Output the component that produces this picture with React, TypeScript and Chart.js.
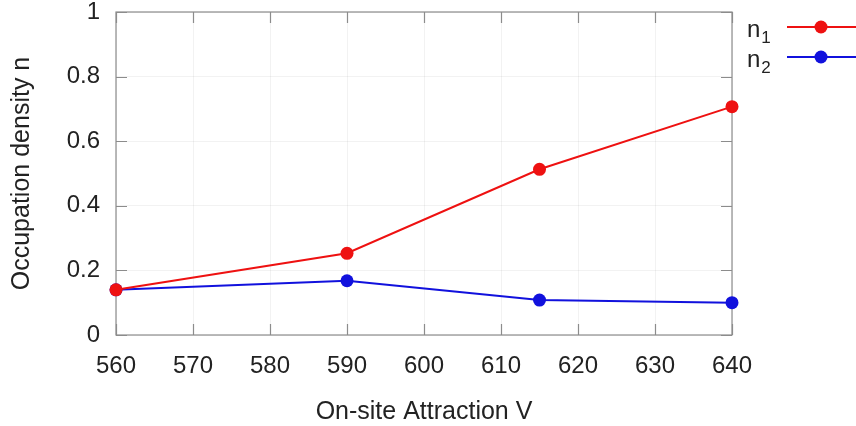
import { useEffect, useRef } from 'react';
import { Chart, registerables } from 'chart.js';

Chart.register(...registerables);

// On-site attraction V (x) and occupation densities of the two sites
const attraction = [560, 590, 615, 640];
const densityN1 = [0.14, 0.253, 0.513, 0.707];
const densityN2 = [0.14, 0.168, 0.108, 0.1];

const seriesBase = ['n', 'n'];
const seriesSub = ['1', '2'];
const seriesColors = ['#ee1111', '#1111dd'];

const xTickValues = [560, 570, 580, 590, 600, 610, 620, 630, 640];
const yTickValues = [0, 0.2, 0.4, 0.6, 0.8, 1];
const yTickLabels = ['0', '0.2', '0.4', '0.6', '0.8', '1'];

const xTitle = 'On-site Attraction V';
const yTitle = 'Occupation density n';

const FONT = '"Liberation Sans", Arial, Helvetica, sans-serif';
const FRAME = '#8c8c8c';
const TICK_LEN = 11;

// Closed frame with inward tick marks on all four sides
const framePlugin = {
  id: 'frameTicks',
  beforeDatasetsDraw(chart: any) {
    const { ctx, chartArea: a, scales } = chart;
    const xs = scales.x;
    const ys = scales.y;
    ctx.save();
    ctx.strokeStyle = FRAME;
    ctx.lineWidth = 1.2;
    ctx.strokeRect(a.left, a.top, a.right - a.left, a.bottom - a.top);
    ctx.beginPath();
    xTickValues.forEach((v) => {
      const px = Math.round(xs.getPixelForValue(v)) + 0.5;
      ctx.moveTo(px, a.bottom);
      ctx.lineTo(px, a.bottom - TICK_LEN);
      ctx.moveTo(px, a.top);
      ctx.lineTo(px, a.top + TICK_LEN);
    });
    yTickValues.forEach((v) => {
      const py = Math.round(ys.getPixelForValue(v)) + 0.5;
      ctx.moveTo(a.left, py);
      ctx.lineTo(a.left + TICK_LEN, py);
      ctx.moveTo(a.right, py);
      ctx.lineTo(a.right - TICK_LEN, py);
    });
    ctx.stroke();
    ctx.restore();
  },
};

// Key to the right of the plot: label with subscript, then line sample with point
const keyPlugin = {
  id: 'sideKey',
  afterDraw(chart: any) {
    const { ctx, chartArea: a, data } = chart;
    ctx.save();
    data.datasets.forEach((ds: any, i: number) => {
      const rowY = 27 + i * 30;
      const tx = a.right + 15;
      ctx.fillStyle = '#222';
      ctx.textBaseline = 'alphabetic';
      ctx.textAlign = 'left';
      ctx.font = `24px ${FONT}`;
      ctx.fillText(seriesBase[i], tx, rowY + 10);
      const w = ctx.measureText(seriesBase[i]).width;
      ctx.font = `17px ${FONT}`;
      ctx.fillText(seriesSub[i], tx + w + 1, rowY + 16);
      ctx.strokeStyle = ds.borderColor;
      ctx.lineWidth = 2;
      ctx.beginPath();
      ctx.moveTo(a.right + 55, rowY);
      ctx.lineTo(chart.width, rowY);
      ctx.stroke();
      ctx.fillStyle = ds.backgroundColor;
      ctx.beginPath();
      ctx.arc(a.right + 89, rowY, 6.5, 0, Math.PI * 2);
      ctx.fill();
    });
    ctx.restore();
  },
};

export default function App() {
  const canvasRef = useRef<HTMLCanvasElement | null>(null);

  useEffect(() => {
    const canvas = canvasRef.current;
    if (!canvas) return;
    const series = [densityN1, densityN2];
    const chart = new Chart(canvas, {
      type: 'line',
      data: {
        datasets: series.map((vals, i) => ({
          label: seriesBase[i] + seriesSub[i],
          data: attraction.map((x, j) => ({ x, y: vals[j] })),
          borderColor: seriesColors[i],
          backgroundColor: seriesColors[i],
          pointBackgroundColor: seriesColors[i],
          pointBorderColor: seriesColors[i],
          pointRadius: 6.5,
          pointBorderWidth: 0,
          borderWidth: 2,
          tension: 0,
          clip: false as any,
        })),
      },
      options: {
        responsive: false,
        animation: false,
        devicePixelRatio: 1,
        layout: { padding: { top: 12, right: 124, left: 0, bottom: 0 } },
        plugins: {
          legend: { display: false },
          tooltip: { enabled: false },
        },
        scales: {
          x: {
            type: 'linear',
            min: 560,
            max: 640,
            afterBuildTicks: (s: any) => {
              s.ticks = xTickValues.map((v) => ({ value: v }));
            },
            afterFit: (s: any) => {
              s.height = 91;
              s.paddingLeft = 0;
              s.paddingRight = 0;
            },
            grid: { color: 'rgba(0,0,0,0.05)', drawTicks: false },
            border: { display: false },
            ticks: {
              color: '#222',
              font: { family: FONT, size: 24 },
              padding: 17,
              maxRotation: 0,
              callback: (v: any) => String(v),
            },
            title: {
              display: true,
              text: xTitle,
              color: '#222',
              font: { family: FONT, size: 25 },
              padding: { top: 0, bottom: -1 },
            },
          },
          y: {
            type: 'linear',
            min: 0,
            max: 1,
            afterBuildTicks: (s: any) => {
              s.ticks = yTickValues.map((v) => ({ value: v }));
            },
            afterFit: (s: any) => {
              s.width = 116;
              s.paddingTop = 0;
              s.paddingBottom = 0;
            },
            grid: { color: 'rgba(0,0,0,0.05)', drawTicks: false },
            border: { display: false },
            ticks: {
              color: '#222',
              font: { family: FONT, size: 24 },
              padding: 16,
              callback: (v: any) => {
                const k = yTickValues.findIndex((t) => Math.abs(t - v) < 1e-9);
                return k >= 0 ? yTickLabels[k] : '';
              },
            },
            title: {
              display: true,
              text: yTitle,
              color: '#222',
              font: { family: FONT, size: 25 },
              padding: { top: 7, bottom: 0 },
            },
          },
        },
      },
      plugins: [framePlugin, keyPlugin],
    });
    return () => chart.destroy();
  }, []);

  return (
    <div style={{ position: 'fixed', left: 0, top: 0, width: 856, height: 426, background: '#fff' }}>
      <canvas ref={canvasRef} width={856} height={426} />
    </div>
  );
}
